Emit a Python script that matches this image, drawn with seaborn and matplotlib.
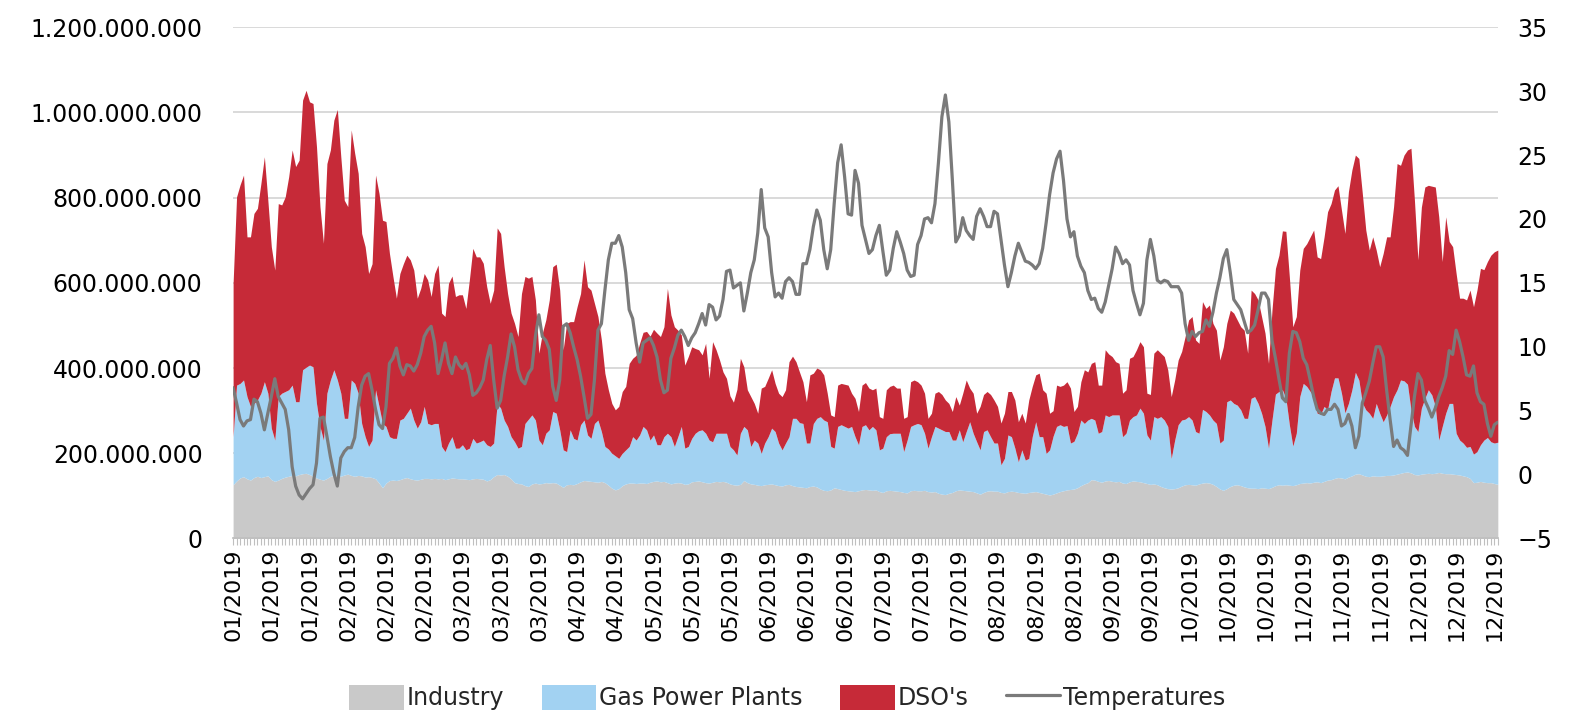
import pandas as pd
import matplotlib
matplotlib.use("Agg")
import matplotlib.pyplot as plt
import matplotlib.dates as mdates
from matplotlib.patches import Patch
from matplotlib.lines import Line2D
from matplotlib.ticker import FuncFormatter
import seaborn as sns

# ===============================
# Data (daily 2019, volumes in millions, temperature in degC)
# ===============================

days = pd.date_range("2019-01-01", "2019-12-31", freq="D")

industry = [
    126, 135, 142, 145, 140, 137, 143, 146, 143, 145,
    147, 138, 134, 137, 141, 144, 146, 148, 147, 150,
    152, 153, 150, 146, 142, 139, 137, 141, 146, 148,
    147, 146, 149, 151, 148, 146, 148, 147, 144, 145,
    143, 140, 130, 119, 130, 136, 137, 136, 138, 141,
    143, 140, 138, 137, 139, 141, 141, 140, 141, 140,
    141, 138, 140, 142, 141, 140, 140, 139, 138, 140,
    141, 140, 139, 135, 138, 145, 150, 149, 150, 146,
    140, 131, 129, 128, 124, 122, 128, 130, 128, 129,
    131, 130, 131, 130, 125, 120, 126, 127, 126, 129,
    133, 136, 135, 134, 133, 132, 134, 131, 125, 118,
    114, 117, 124, 128, 130, 130, 129, 130, 130, 129,
    132, 134, 135, 133, 134, 131, 128, 130, 131, 130,
    127, 128, 133, 134, 135, 133, 131, 130, 132, 134,
    133, 134, 132, 128, 126, 125, 127, 136, 131, 128,
    127, 125, 124, 126, 127, 128, 126, 124, 123, 126,
    127, 124, 122, 121, 120, 119, 122, 123, 121, 116,
    113, 112, 114, 119, 117, 115, 113, 112, 111, 110,
    112,
    114, 115, 114, 113, 114, 110, 108, 112, 113, 112,
    111, 110, 108, 107, 112, 113, 112, 112, 113, 110,
    109, 110, 106, 104, 103, 106, 108, 112, 114, 113,
    112, 111, 110, 107, 104, 108, 111, 112, 111, 111,
    108, 107, 110, 111, 110, 108, 107, 106, 108, 109,
    110, 108, 106, 104, 102, 104, 107, 110, 112, 114,
    115, 116, 119, 124, 128, 131, 138, 137, 134, 132,
    135, 136, 134, 133, 134, 130, 129, 133, 135, 134,
    133, 131, 129, 127, 128, 126, 122, 119, 117, 116,
    117, 119, 123, 126, 127, 126, 125, 128, 130, 131,
    130, 127, 122, 116, 113, 117, 122, 125, 126, 124,
    121, 119, 118, 118, 117, 119, 118, 117, 120, 124,
    126,
    125, 126, 125, 124, 126, 129, 130, 131, 130, 132,
    133, 131, 134, 137, 138, 141, 143, 142, 140, 144,
    147, 151, 152, 149, 146, 145, 147, 146, 146, 147,
    148, 148, 149, 151, 153, 155, 156, 154, 150, 149,
    151, 152, 153, 152, 153, 155, 153, 152, 152, 151,
    150, 149, 147, 145, 141, 131, 132, 134, 132, 131,
    131, 129, 127,
]

gas_power_plants = [
    113, 225, 222, 227, 193, 173, 174, 179, 198, 223,
    194, 121, 97, 196, 200, 201, 203, 212, 174, 171,
    244, 249, 257, 257, 175, 124, 94, 200, 226, 248,
    225, 195, 133, 131, 224, 218, 193, 123, 95, 71,
    88, 209, 180, 151, 133, 103, 98, 99, 140, 141,
    151, 166, 140, 122, 135, 169, 129, 127, 129, 130,
    75, 66, 84, 97, 71, 72, 80, 69, 74, 95,
    83, 87, 92, 85, 78, 79, 167, 157, 128, 117,
    99, 96, 83, 88, 146, 158, 162, 148, 103, 91,
    116, 125, 167, 164, 130, 88, 78, 128, 109, 102,
    134, 142, 108, 101, 137, 146, 117, 85, 85, 82,
    80, 71, 76, 80, 86, 109, 102, 113, 133, 126,
    99, 109, 85, 87, 105, 116, 111, 86, 108, 133,
    85, 88, 102, 113, 118, 122, 116, 101, 95, 113,
    114, 113, 115, 88, 82, 71, 120, 127, 124, 88,
    104, 99, 76, 98, 112, 131, 125, 100, 85, 98,
    112, 158, 160, 151, 150, 105, 102, 147, 161, 170,
    165, 162, 102, 93, 146, 152, 150, 147, 152, 129,
    108,
    149, 152, 141, 150, 141, 98, 104, 127, 133, 135,
    136, 137, 96, 124, 151, 154, 158, 155, 134, 102,
    130, 153, 153, 151, 148, 145, 123, 119, 141, 114,
    139, 163, 137, 120, 104, 143, 144, 127, 113, 113,
    65, 81, 133, 128, 102, 72, 101, 78, 80, 130,
    164, 131, 133, 96, 106, 136, 156, 157, 151, 151,
    109, 112, 128, 154, 142, 147, 144, 141, 113, 119,
    155, 150, 156, 157, 156, 109, 118, 145, 151, 156,
    173, 163, 114, 104, 158, 156, 164, 159, 146, 72,
    114, 148, 155, 154, 159, 152, 126, 119, 173, 167,
    160, 151, 148, 108, 118, 204, 203, 192, 187, 178,
    161, 163, 211, 215, 200, 175, 145, 95, 158, 215,
    219,
    224, 203, 142, 93, 121, 204, 234, 226, 215, 201,
    161, 161, 176, 165, 207, 236, 234, 199, 155, 173,
    202, 239, 220, 169, 156, 149, 135, 171, 148, 127,
    142, 162, 184, 198, 219, 215, 206, 148, 113, 102,
    155, 177, 196, 185, 157, 76, 110, 142, 165, 166,
    97, 82, 77, 69, 75, 67, 72, 86, 99, 106,
    96, 95, 99,
]

dso = [
    360, 442, 466, 481, 375, 398, 446, 450, 492, 528,
    453, 426, 399, 453, 442, 457, 500, 552, 552, 567,
    633, 650, 618, 618, 603, 516, 462, 539, 540, 586,
    635, 555, 512, 497, 587, 540, 516, 446, 446, 406,
    414, 504, 500, 477, 481, 430, 380, 329, 344, 363,
    371, 348, 352, 305, 313, 312, 337, 301, 352, 372,
    313, 317, 375, 377, 356, 360, 352, 332, 395, 446,
    437, 434, 415, 371, 336, 359, 412, 410, 360, 312,
    290, 278, 262, 359, 345, 331, 325, 282, 204, 262,
    266, 305, 340, 350, 328, 235, 301, 254, 274, 313,
    308, 376, 348, 348, 282, 243, 215, 172, 139, 117,
    108, 122, 145, 149, 195, 184, 199, 215, 221, 231,
    244, 248, 262, 254, 258, 340, 286, 281, 250, 215,
    195, 211, 215, 199, 190, 176, 211, 145, 235, 196,
    172, 144, 129, 119, 112, 154, 176, 140, 94, 117,
    86, 70, 153, 133, 137, 137, 113, 117, 125, 125,
    176, 146, 133, 119, 98, 97, 160, 118, 118, 110,
    106, 67, 74, 74, 97, 97, 99, 101, 78, 90,
    78,
    97, 99, 98, 86, 98, 78, 70, 110, 111, 113,
    106, 106, 78, 55, 105, 105, 98, 93, 94, 70,
    55, 78, 86, 83, 74, 66, 67, 102, 58, 114,
    121, 79, 94, 67, 102, 87, 90, 99, 101, 86,
    98, 106, 102, 106, 113, 94, 86, 87, 137, 118,
    110, 149, 110, 141, 86, 60, 97, 90, 97, 103,
    129, 70, 63, 90, 126, 113, 129, 137, 113, 109,
    153, 147, 137, 125, 121, 102, 102, 145, 141, 153,
    156, 156, 98, 107, 149, 161, 149, 149, 133, 145,
    141, 152, 161, 194, 227, 243, 215, 211, 253, 242,
    258, 227, 219, 195, 219, 184, 211, 212, 200, 195,
    207, 153, 254, 242, 243, 227, 219, 199, 258, 295,
    320,
    373, 392, 347, 280, 274, 297, 317, 335, 363, 391,
    367, 365, 398, 465, 441, 441, 451, 430, 421, 497,
    516, 510, 520, 492, 422, 383, 426, 360, 344, 395,
    418, 398, 446, 531, 504, 530, 550, 614, 531, 403,
    472, 496, 480, 490, 515, 524, 387, 461, 380, 368,
    375, 333, 340, 346, 367, 346, 379, 414, 400, 413,
    438, 449, 451,
]

temperatures = [
    6.8, 5.6, 4.3, 3.8, 4.2, 4.3, 5.9, 5.7, 4.8, 3.5,
    4.8, 6.1, 7.5, 6.1, 5.6, 5.1, 3.5, 0.6, -0.9, -1.6,
    -1.9, -1.5, -1.1, -0.8, 0.9, 4.4, 4.5, 3.0, 1.4, 0.1,
    -0.9, 1.3, 1.8, 2.1, 2.1, 2.9, 5.3, 7.0, 7.7, 7.9,
    6.6, 5.1, 3.9, 3.6, 5.3, 8.7, 9.1, 9.9, 8.5, 7.8,
    8.6, 8.5, 8.1, 8.6, 9.5, 10.8, 11.3, 11.6, 10.3, 7.9,
    9.0, 10.3, 8.7, 7.9, 9.2, 8.6, 8.3, 8.7, 7.8, 6.2,
    6.4, 6.8, 7.4, 9.0, 10.1, 7.4, 5.2, 5.8, 7.7, 9.2,
    11.0, 10.0, 8.2, 7.4, 7.1, 7.9, 8.3, 10.8, 12.5, 10.8,
    10.5, 9.8, 6.9, 5.8, 7.4, 11.6, 11.8, 11.1, 10.0, 9.0,
    7.7, 6.1, 4.4, 4.7, 7.4, 11.3, 11.8, 14.4, 16.8, 18.1,
    18.1, 18.7, 17.8, 15.8, 12.9, 12.2, 10.3, 8.8, 10.3, 10.5,
    10.7, 10.1, 9.2, 7.4, 6.4, 6.6, 9.1, 9.9, 10.9, 11.3,
    10.8, 10.1, 10.7, 11.1, 11.8, 12.6, 11.7, 13.3, 13.1, 12.1,
    12.4, 13.7, 15.9, 16.0, 14.6, 14.8, 15.0, 12.8, 14.2, 15.8,
    16.8, 18.9, 22.3, 19.3, 18.6, 15.8, 13.9, 14.2, 13.8, 15.1,
    15.4, 15.1, 14.1, 14.1, 16.5, 16.5, 17.6, 19.4, 20.7, 19.9,
    17.6, 16.1, 17.6, 21.2, 24.4, 25.8, 23.3, 20.4, 20.3, 23.8,
    22.8,
    19.5, 18.4, 17.3, 17.6, 18.7, 19.5, 17.5, 15.6, 16.0, 17.7,
    19.0, 18.2, 17.3, 16.0, 15.5, 15.6, 18.0, 18.7, 20.0, 20.1,
    19.7, 21.2, 24.4, 28.0, 29.7, 27.6, 23.1, 18.2, 18.7, 20.1,
    19.1, 18.7, 18.4, 20.2, 20.8, 20.2, 19.4, 19.4, 20.6, 20.4,
    18.4, 16.4, 14.7, 15.8, 17.1, 18.1, 17.4, 16.7, 16.6, 16.4,
    16.1, 16.5, 17.7, 19.7, 21.9, 23.6, 24.7, 25.3, 23.0, 20.0,
    18.6, 19.0, 17.1, 16.3, 15.8, 14.4, 13.7, 13.8, 13.0, 12.7,
    13.5, 14.8, 16.1, 17.8, 17.3, 16.5, 16.8, 16.4, 14.4, 13.4,
    12.5, 13.4, 16.8, 18.4, 17.1, 15.2, 15.0, 15.2, 15.1, 14.7,
    14.7, 14.7, 14.2, 11.8, 10.5, 11.2, 10.8, 11.1, 11.2, 12.1,
    11.6, 12.7, 14.2, 15.4, 16.9, 17.6, 15.8, 13.7, 13.3, 12.9,
    12.0, 11.1, 11.3, 11.7, 12.9, 14.2, 14.2, 13.7, 10.5, 9.1,
    7.5,
    6.0, 5.7, 9.5, 11.2, 11.1, 10.4, 9.1, 8.6, 7.4, 6.1,
    5.1, 4.8, 4.7, 5.1, 5.1, 5.5, 5.1, 3.8, 4.0, 4.7,
    3.8, 2.1, 3.0, 5.6, 6.4, 7.3, 8.7, 10.0, 10.0, 9.2,
    6.6, 4.3, 2.2, 2.7, 2.1, 1.9, 1.5, 3.8, 6.1, 7.9,
    7.4, 5.8, 5.2, 4.5, 5.2, 6.1, 6.8, 7.7, 9.7, 9.4,
    11.3, 10.4, 9.2, 7.8, 7.7, 8.5, 6.4, 5.7, 5.5, 4.0,
    3.0, 3.9, 4.1,
]

labels = ["Industry", "Gas Power Plants", "DSO's", "Temperatures"]
colors = ["#C9C9C9", "#A2D2F2", "#C62A38", "#7A7A7A"]

# ===============================
# Chart
# ===============================

sns.set_theme(style="white")
plt.rcParams["font.family"] = ["DejaVu Sans"]

fig = plt.figure(figsize=(15.75, 7.17), dpi=100)
ax = fig.add_axes([0.148, 0.249, 0.803, 0.713])

ax.stackplot(days, industry, gas_power_plants, dso,
             colors=colors[:3], linewidth=0)

ax.set_xlim(days[0], days[-1])
ax.set_ylim(0, 1200)
ax.set_yticks(range(0, 1201, 200))
ax.yaxis.set_major_formatter(
    FuncFormatter(lambda v, p: f"{int(round(v * 1e6)):,}".replace(",", "."))
)
ax.grid(axis="y", color="#D9D9D9", linewidth=1.4)
ax.set_axisbelow(True)
for side in ["left", "right", "top"]:
    ax.spines[side].set_visible(False)
ax.spines["bottom"].set_color("#BFBFBF")

ax.set_xticks(days[::11])
ax.xaxis.set_major_formatter(mdates.DateFormatter("%m/%Y"))
ax.xaxis.set_minor_locator(mdates.DayLocator())
ax.tick_params(axis="x", which="both", length=5, width=0.8,
               color="#BFBFBF", bottom=True)
ax.tick_params(axis="x", which="major", labelrotation=90, labelsize=16,
               pad=2, labelcolor="black")
ax.tick_params(axis="y", length=0, labelsize=17, pad=22, labelcolor="black")

ax2 = ax.twinx()
sns.lineplot(x=days, y=temperatures, ax=ax2, color=colors[3], linewidth=2.3)
ax2.set_ylim(-5, 35)
ax2.set_yticks(range(-5, 36, 5))
ax2.set_ylabel("")
ax2.grid(False)
for spine in ax2.spines.values():
    spine.set_visible(False)
ax2.tick_params(axis="y", length=0, labelsize=17, pad=14, labelcolor="black")

handles = [
    Patch(facecolor=colors[0], edgecolor="none"),
    Patch(facecolor=colors[1], edgecolor="none"),
    Patch(facecolor=colors[2], edgecolor="none"),
    Line2D([], [], color=colors[3], linewidth=2.3),
]
fig.legend(handles, labels, loc="center", bbox_to_anchor=(0.5, 0.027),
           ncol=4, frameon=False, fontsize=17, handlelength=2.3,
           handleheight=1.25, handletextpad=0.12, columnspacing=1.6)

fig.savefig("out.png", dpi=100)
plt.close(fig)
